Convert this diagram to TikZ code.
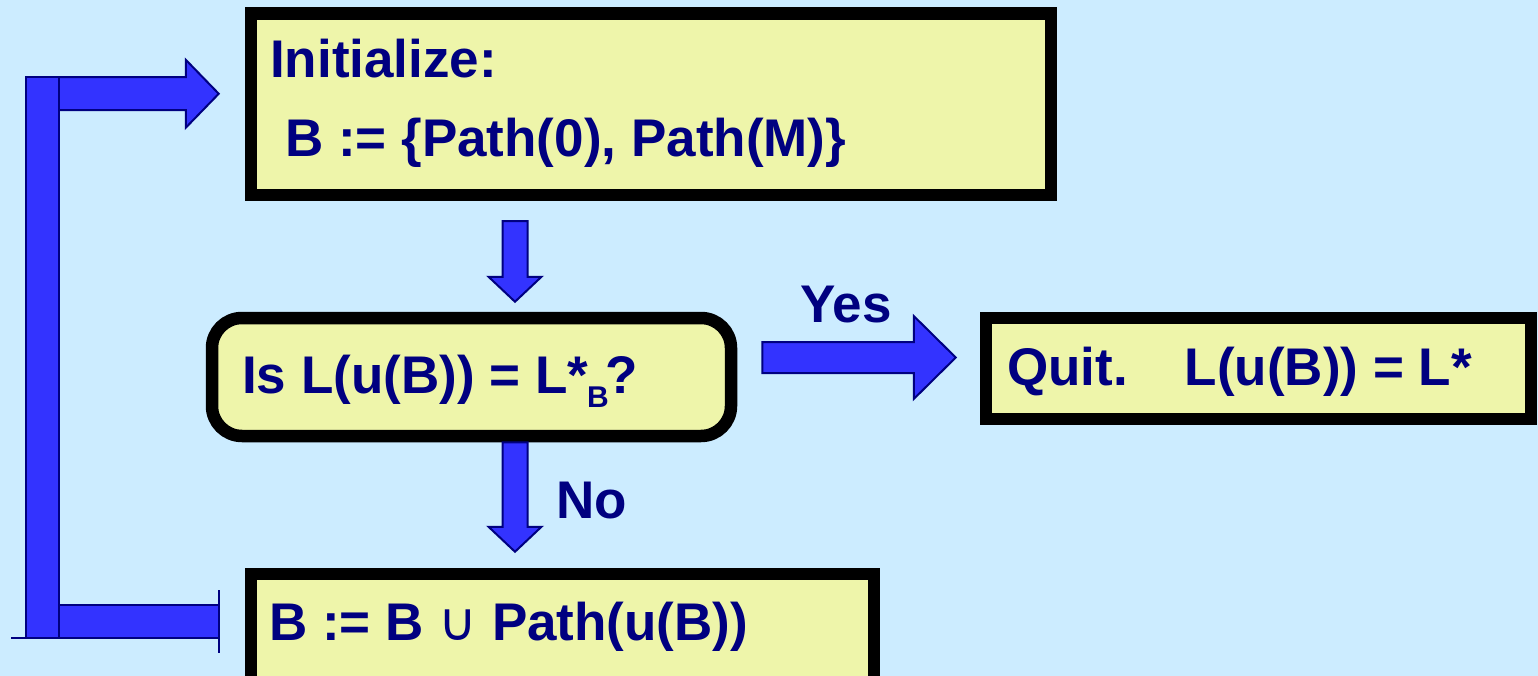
\documentclass[tikz,border=0pt]{standalone}
\usepackage{fontspec}
\setmainfont{Liberation Sans}
\newfontfamily\symfont{DejaVu Sans}
\usetikzlibrary{calc}
\definecolor{bg}{HTML}{CCECFF}
\definecolor{boxfill}{HTML}{EEF5AA}
\definecolor{ink}{HTML}{000080}
\definecolor{arrowblue}{HTML}{3333FF}

\tikzset{
  box/.style={draw=black, line width=12.5pt, fill=boxfill, inner sep=0pt},
  txt/.style={text=ink, font=\fontsize{53}{60}\selectfont\bfseries, inner sep=0pt, anchor=base west},
  blk/.style={draw=ink, fill=arrowblue, line width=2pt, line join=miter},
  bar/.style={draw=ink, line width=2pt},
}

% block arrow pointing down: start, tip, shaft half-width, head half-width, head length
\newcommand\blkdown[5]{%
  \draw[blk] let \p1=(#1), \p2=(#2) in
    (\x1-#3pt,\y1) -- (\x1+#3pt,\y1) -- (\x1+#3pt,\y2+#5pt) -- (\x1+#4pt,\y2+#5pt)
    -- (\x1,\y2) -- (\x1-#4pt,\y2+#5pt) -- (\x1-#3pt,\y2+#5pt) -- cycle;}
% block arrow pointing right: start, tip, shaft half-width, head half-width, head length
\newcommand\blkright[5]{%
  \draw[blk] let \p1=(#1), \p2=(#2) in
    (\x1,\y1+#3pt) -- (\x2-#5pt,\y1+#3pt) -- (\x2-#5pt,\y1+#4pt) -- (\x2,\y1)
    -- (\x2-#5pt,\y1-#4pt) -- (\x2-#5pt,\y1-#3pt) -- (\x1,\y1-#3pt) -- cycle;}

\begin{document}
\begin{tikzpicture}[x=1pt,y=-1pt]
\useasboundingbox (0,0) rectangle (1538,676);
\clip (0,0) rectangle (1538,676);
\fill[bg] (0,0) rectangle (1538,676);

% process boxes
\node[box, minimum width=800pt, minimum height=181.5pt] (init) at (651,104.25) {};
\node[box, rounded corners=30pt, minimum width=519pt, minimum height=118pt] (test) at (471.5,377) {};
\node[box, minimum width=545pt, minimum height=101pt] (quit) at (1258.5,368.5) {};
\node[box, minimum width=623pt, minimum height=126pt] (update) at (562.5,637) {};

% box texts
\node[txt] (initA) at (270,78) {Initialize:};
\node[txt] (initB) at (285,157) {B := \{Path(0), Path(M)\}};
\node[txt] (testT) at (242,393) {Is L(u(B)) = L*\kern-1pt\raisebox{-14pt}{\fontsize{30}{30}\selectfont B}\kern-3pt?};
\node[txt] (quitT) at (1007,385) {Quit.\hspace{57pt}L(u(B)) = L*};
\node[txt] (updT) at (269,640) {B := B {\symfont\mdseries ∪} Path(u(B))};

% branch labels
\node[txt] (yes) at (800,322) {Yes};
\node[txt] (no) at (556,518) {No};

% flow arrows
\coordinate (spine) at (515,0);
\coordinate (d1s) at ($(init.south -| spine)+(0,20)$);
\coordinate (d1t) at ($(test.north -| spine)+(0,-10)$);
\blkdown{d1s}{d1t}{12.5}{26.5}{25}

\coordinate (d2s) at (test.south -| spine);
\coordinate (d2t) at ($(update.north -| spine)+(0,-16)$);
\blkdown{d2s}{d2t}{12.5}{26.5}{25}

\coordinate (ys) at ($(test.east)+(25,-19.5)$);
\coordinate (yt) at ($(quit.west |- ys)+(-24,0)$);
\blkright{ys}{yt}{15.5}{41.5}{42}

% loop back from the update box to the initialisation
\coordinate (lpCol) at (26,0);
\coordinate (lpTop) at ($(init.west)+(-26,-10.5)$);
\coordinate (lpTopStart) at (lpCol |- lpTop);
\coordinate (lpBot) at ($(update.west)+(-26,-15.5)$);
\blkright{lpTopStart}{lpTop}{16.5}{34}{33}
\draw[blk] (26,605) rectangle (lpBot |- 0,638);
\draw[blk] (26,77) rectangle (59,638);
\draw[bar] ($(lpBot)+(0,-31.5)$) -- ($(lpBot)+(0,31.5)$);
\draw[bar] (11,638) -- (75,638);
\end{tikzpicture}
\end{document}
